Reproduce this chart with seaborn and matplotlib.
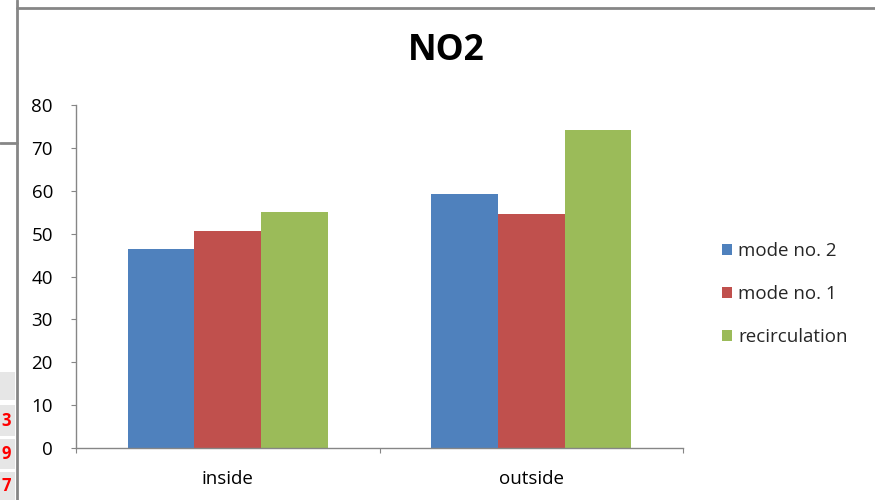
import matplotlib
matplotlib.use("Agg")
import matplotlib.pyplot as plt
from matplotlib.lines import Line2D
from matplotlib.patches import Rectangle
import seaborn as sns
import pandas as pd

# NO2 measurements by location and ventilation mode
locations = ["inside", "outside"]
modes = ["mode no. 2", "mode no. 1", "recirculation"]
mode2_values = [46.3, 59.2]
mode1_values = [50.5, 54.6]
recirculation_values = [55.1, 74.2]
y_ticks = [0, 10, 20, 30, 40, 50, 60, 70, 80]
side_cells = ["3", "9", "7"]

colors = ["#4F81BD", "#C0504D", "#9BBB59"]
axis_gray = "#868686"

records = []
for mode, vals in zip(modes, [mode2_values, mode1_values, recirculation_values]):
    for loc, v in zip(locations, vals):
        records.append({"location": loc, "mode": mode, "NO2": v})
df = pd.DataFrame(records)

sns.set_theme(style="white")
plt.rcParams["font.family"] = ["Open Sans", "DejaVu Sans"]

W, H = 875, 500
fig = plt.figure(figsize=(W / 100, H / 100), dpi=100)
ax = fig.add_axes([76 / W, 1 - 448 / H, (683 - 76) / W, (448 - 105) / H])

sns.barplot(data=df, x="location", y="NO2", hue="mode", hue_order=modes,
            order=locations, palette=colors, width=0.66, gap=0,
            saturation=1, linewidth=0, ax=ax, legend=False)

ax.set_ylim(0, 80)
ax.set_xlim(-0.5, 1.5)
ax.set_yticks(y_ticks)
ax.set_xlabel("")
ax.set_ylabel("")
ax.set_xticks([0, 1])
ax.set_xticklabels(locations)
ax.set_xticks([-0.5, 0.5, 1.5], minor=True)

for side in ["top", "right"]:
    ax.spines[side].set_visible(False)
for side in ["left", "bottom"]:
    ax.spines[side].set_color(axis_gray)
    ax.spines[side].set_linewidth(1.0)

tick_size = 13.5
ax.tick_params(axis="y", which="major", left=True, length=3.6, width=0.8,
               color=axis_gray, pad=13, labelsize=tick_size, labelcolor="black")
ax.tick_params(axis="x", which="major", bottom=True, length=0, pad=15.5,
               labelsize=tick_size, labelcolor="black")
ax.tick_params(axis="x", which="minor", bottom=True, length=3.6, width=0.8,
               color=axis_gray)

# Title
fig.text(446 / W, 1 - 51 / H, "NO2", ha="center", va="center",
         fontsize=25.5, fontweight="bold", color="black")

# Legend
handles = [Rectangle((0, 0), 1, 1, facecolor=c, edgecolor="none") for c in colors]
fig.legend(handles, modes, loc="center left",
           bbox_to_anchor=(714 / W, 1 - 294 / H), frameon=False,
           fontsize=tick_size, handlelength=0.55, handleheight=0.55,
           handletextpad=0.35, labelspacing=1.33, borderaxespad=0)

# Chart frame and surrounding sheet edges
frame_kw = dict(color=axis_gray, linewidth=2, transform=fig.transFigure)
fig.add_artist(Line2D([17 / W, 1.0], [1 - 8 / H, 1 - 8 / H], **frame_kw))
fig.add_artist(Line2D([17 / W, 17 / W], [0, 1.0], **frame_kw))
fig.add_artist(Line2D([0, 17 / W], [1 - 143 / H, 1 - 143 / H], **frame_kw))

cell_rows = [(372, 400), (405, 436), (439, 469), (472, 500)]
for top, bottom in cell_rows:
    fig.add_artist(Rectangle((0, 1 - bottom / H), 15 / W, (bottom - top) / H,
                             transform=fig.transFigure, facecolor="#E6E6E6",
                             edgecolor="none"))
for (top, bottom), s in zip(cell_rows[1:], side_cells):
    fig.text(1.5 / W, 1 - (top + bottom) / 2 / H, s, ha="left", va="center",
             fontsize=12, fontweight="bold", color="#FF0000")

fig.savefig("out.png", dpi=100)
